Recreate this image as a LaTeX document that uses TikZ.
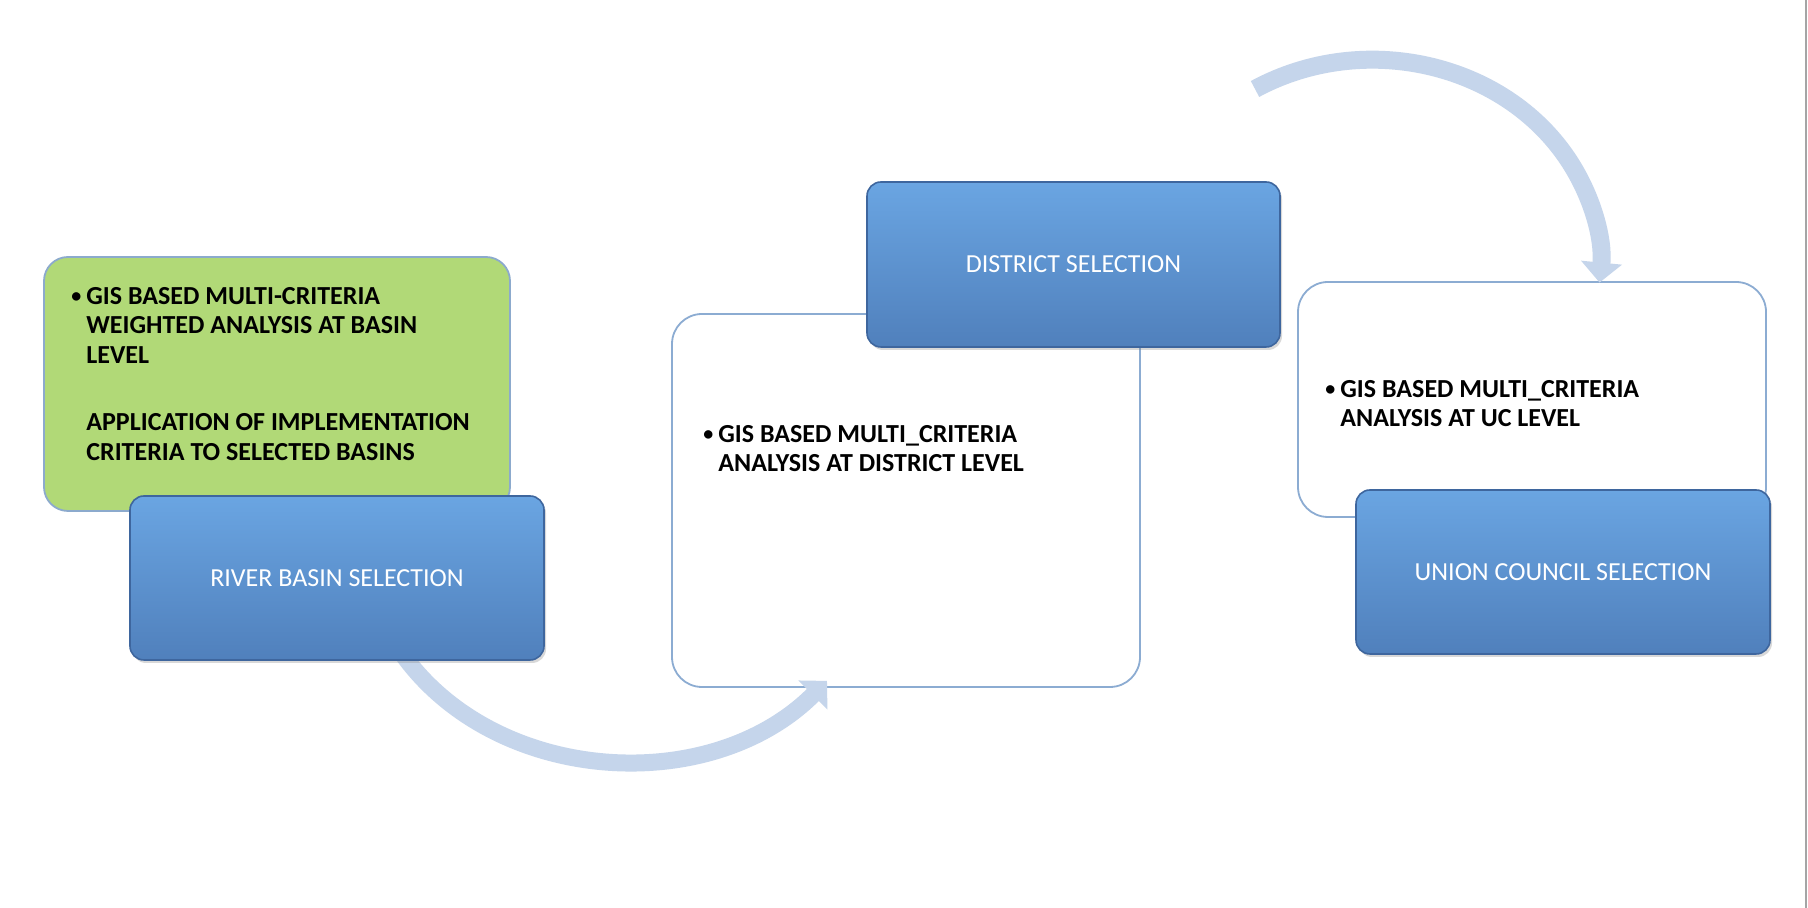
\documentclass[tikz,border=0pt]{standalone}
\usepackage{fontspec}
\setmainfont{Carlito}
\usepackage{xcolor}
\usetikzlibrary{arrows.meta,shadows}

\definecolor{selTop}{RGB}{106,165,226}
\definecolor{selBot}{RGB}{80,128,188}
\definecolor{selEdge}{RGB}{62,102,158}
\definecolor{critGreen}{RGB}{177,217,119}
\definecolor{critEdge}{RGB}{140,170,205}
\definecolor{infoEdge}{RGB}{140,172,210}
\definecolor{flowBlue}{RGB}{197,213,235}
\definecolor{pageEdge}{RGB}{165,165,165}

\pgfdeclarelayer{boxlayer}
\pgfdeclarelayer{arrowlayer}
\pgfsetlayers{boxlayer,arrowlayer,main}

\newcommand{\infobullet}{\llap{\raisebox{1.2pt}{\fontsize{10}{10}\selectfont\textbullet}\hspace{2.5pt}}}

\tikzset{
  selbox/.style={rectangle, rounded corners=7pt, minimum width=207pt, minimum height=82pt,
    top color=selTop, bottom color=selBot, draw=selEdge, line width=0.8pt, text=white,
    font=\fontsize{13}{15}\selectfont,
    drop shadow={opacity=0.3, shadow xshift=1pt, shadow yshift=-1.5pt}},
  infobox/.style={rectangle, rounded corners=15pt, draw=infoEdge, line width=0.9pt, fill=white},
  infotext/.style={anchor=north west, inner sep=0pt, align=left,
    font=\bfseries\fontsize{13}{14.75}\selectfont},
  flowarrow/.style={draw=flowBlue, line width=8.5pt, -{Triangle[width=20pt,length=10pt]}}
}

\begin{document}
\begin{tikzpicture}[x=0.5pt,y=0.5pt]
\useasboundingbox (0,0) rectangle (1808,908);

\begin{pgfonlayer}{boxlayer}
\fill[white] (0,0) rectangle (1808,908);
% criteria box, green
\draw (277,524) node [rectangle, rounded corners=12pt, minimum width=233pt, minimum height=127pt,
  fill=critGreen, draw=critEdge, line width=0.9pt] (gbox) {};
% white boxes
\draw (906,407.5) node [infobox, minimum width=234pt, minimum height=186.5pt] (dwhite) {};
\draw (1532,508.5) node [infobox, minimum width=234pt, minimum height=117.5pt] (rwhite) {};
\end{pgfonlayer}

% texts
\draw (86,621) node [infotext] (gtext) {\infobullet GIS BASED MULTI-CRITERIA\\
  WEIGHTED ANALYSIS AT BASIN\\ LEVEL\\[19pt]
  APPLICATION OF IMPLEMENTATION\\ CRITERIA TO SELECTED BASINS};
\draw (718,483) node [infotext] (dtext) {\infobullet GIS BASED MULTI\_CRITERIA\\
  ANALYSIS AT DISTRICT LEVEL};
\draw (1340,528) node [infotext] (utext) {\infobullet GIS BASED MULTI\_CRITERIA\\
  ANALYSIS AT UC LEVEL};

% selection boxes
\draw (337,330) node [selbox] (rbsel) {RIVER BASIN SELECTION};
\draw (1073.5,643.5) node [selbox, minimum width=206.5pt, minimum height=82.5pt] (dsel) {DISTRICT SELECTION};
\draw (1563,336) node [selbox] (ucsel) {UNION COUNCIL SELECTION};

% curved arrows
\coordinate (arcstart) at (1255,819);
\begin{pgfonlayer}{arrowlayer}
\draw[flowarrow] ([xshift=26.5pt,yshift=13pt]rbsel.south) to[out=-60,in=225] ([xshift=-39.5pt,yshift=3.5pt]dwhite.south);
\draw[flowarrow, line width=9pt] (arcstart) arc[start angle=121, end angle=-5, x radius=114pt, y radius=102.5pt];
\end{pgfonlayer}

\draw[pageEdge, line width=1pt] (1806,0) -- (1806,908);
\end{tikzpicture}
\end{document}
